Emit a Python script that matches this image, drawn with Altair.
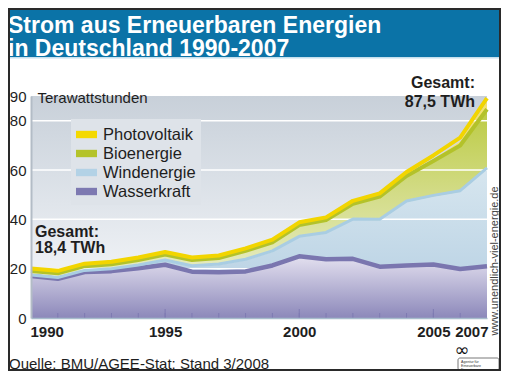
import altair as alt
import pandas as pd

# ---------------- data ----------------
years = list(range(1990, 2008))
wasserkraft = [17.0, 15.9, 18.6, 19.0, 20.2, 21.6, 18.8, 18.5, 18.9, 21.3, 25.0, 23.8, 24.0, 20.8, 21.3, 21.7, 19.9, 21.0]
windenergie = [0.07, 0.1, 0.3, 0.6, 0.9, 1.5, 2.0, 3.0, 4.5, 5.5, 7.7, 10.5, 15.7, 18.8, 25.7, 27.6, 31.3, 39.5]
bioenergie = [1.4, 1.5, 1.5, 1.6, 1.8, 2.0, 2.1, 2.2, 3.2, 3.3, 4.4, 4.8, 6.0, 9.0, 10.0, 13.7, 18.1, 23.5]
photovoltaik = [0.0, 0.0, 0.0, 0.0, 0.0, 0.01, 0.01, 0.01, 0.02, 0.03, 0.06, 0.08, 0.19, 0.31, 0.56, 1.28, 2.22, 3.5]

legend_names = ["Photovoltaik", "Bioenergie", "Windenergie", "Wasserkraft"]
legend_colors = ["#f4d900", "#b4c32a", "#b3d2e6", "#7d79b1"]

x_label_years = [1990, 1995, 2000, 2005, 2007]
y_label_values = [0, 20, 40, 60, 80, 90]
grid_values = [20, 40, 60, 80]
tick_years = years[1:-1]
major_tick_years = [1995, 2000, 2005]

title_lines = ["Strom aus Erneuerbaren Energien", "in Deutschland 1990-2007"]
total_start = ["Gesamt:", "18,4 TWh"]
total_end = ["Gesamt:", "87,5 TWh"]
source_text = "Quelle: BMU/AGEE-Stat; Stand 3/2008"
url_text = "www.unendlich-viel-energie.de"
logo_lines = ["Agentur für", "Erneuerbare", "Energien"]

# ---------------- tables ----------------
df = pd.DataFrame({
    "Jahr": years,
    "Wasserkraft": wasserkraft,
    "Windenergie": windenergie,
    "Bioenergie": bioenergie,
    "Photovoltaik": photovoltaik,
})
df["c1"] = df["Wasserkraft"]
df["c2"] = df["c1"] + df["Windenergie"]
df["c3"] = df["c2"] + df["Bioenergie"]
df["c4"] = df["c3"] + df["Photovoltaik"]
long_df = df.melt(id_vars="Jahr", value_vars=legend_names, var_name="Energie", value_name="TWh")

W, H = 456, 222
FONT = "Liberation Sans"
TXT = "#1e1e1e"

xscale = alt.Scale(domain=[1990, 2007], nice=False, zero=False)
yscale = alt.Scale(domain=[0, 90], nice=False, zero=True)
xaxis = alt.Axis(values=x_label_years, format="d", title=None, grid=False, ticks=False,
                 labelFontSize=15, labelFontWeight="bold", labelColor=TXT, labelPadding=6,
                 labelFlush=True, labelFlushOffset=1, labelFont=FONT, zindex=1,
                 domainColor="#a7bccc", domainWidth=1.5)
yaxis = alt.Axis(values=y_label_values, title="Terawattstunden", grid=False, ticks=False,
                 labelFontSize=15, labelColor=TXT, labelPadding=5, labelFont=FONT, zindex=1,
                 domainColor="#b3bcc6", domainWidth=2,
                 titleAngle=0, titleAlign="left", titleBaseline="middle", titleX=6, titleY=1,
                 titleFontSize=15, titleFontWeight="normal", titleColor=TXT, titleFont=FONT)
X = alt.X("Jahr:Q", scale=xscale, axis=xaxis)


def Y(field):
    return alt.Y(field, scale=yscale, axis=yaxis)


def grad(stops):
    return alt.Gradient(gradient="linear", x1=0, x2=0, y1=0, y2=1,
                        stops=[alt.GradientStop(color=c, offset=o) for o, c in stops])


one = alt.Data(values=[{"a": 1}])


def box(x, x2, y, y2, **kw):
    return alt.Chart(one).mark_rect(**kw).encode(
        x=alt.value(x), x2=alt.value(x2), y=alt.value(y), y2=alt.value(y2))


def txt(s, x, y, **kw):
    kw.setdefault("font", FONT)
    return alt.Chart(one).mark_text(text=s, **kw).encode(x=alt.value(x), y=alt.value(y))


base = alt.Chart(df)

background = box(0, W, 0, H, color=grad([(0, "#c8d0d9"), (0.35, "#d9dfe6"), (0.75, "#edf0f4"), (1, "#f3f5f8")]))

area_wind = base.mark_area(color=grad([(0, "#d7e6ef"), (1, "#bcd4e5")])).encode(x=X, y=Y("c2:Q"), y2="c1:Q")
area_bio = base.mark_area(color=grad([(0, "#bccb44"), (0.5, "#d3dc88"), (1, "#e8edc6")])).encode(x=X, y=Y("c3:Q"), y2="c2:Q")
area_pv = base.mark_area(color="#f5e46c").encode(x=X, y=Y("c4:Q"), y2="c3:Q")

grid = alt.Chart(pd.DataFrame({"v": grid_values})).mark_rule(color="white", strokeWidth=1.5).encode(
    y=alt.Y("v:Q", scale=yscale, axis=yaxis))

area_wasser = base.mark_area(color=grad([(0, "#e3e0ef"), (1, "#8c88ba")])).encode(x=X, y=Y("c1:Q"))

ticks_minor = alt.Chart(pd.DataFrame({"j": tick_years})).mark_rule(color="#7e7ab2", strokeWidth=1).encode(
    x=alt.X("j:Q", scale=xscale, axis=xaxis), y=alt.value(H - 5), y2=alt.value(H))
ticks_major = alt.Chart(pd.DataFrame({"j": major_tick_years})).mark_rule(color="#7e7ab2", strokeWidth=1).encode(
    x=alt.X("j:Q", scale=xscale, axis=xaxis), y=alt.value(H - 9), y2=alt.value(H))

line_wasser = base.mark_line(color="#7a76af", strokeWidth=4.5, strokeJoin="round").encode(x=X, y=Y("c1:Q"))
line_wind = base.mark_line(color="#a9cde3", strokeWidth=3, yOffset=-1, strokeJoin="round").encode(x=X, y=Y("c2:Q"))
line_bio = base.mark_line(color="#b3c22a", strokeWidth=4, yOffset=-1.5, strokeJoin="round").encode(x=X, y=Y("c3:Q"))
line_pv = base.mark_line(color="#f2d500", strokeWidth=4, yOffset=-4, strokeJoin="round").encode(x=X, y=Y("c4:Q"))

legend_layer = alt.Chart(long_df).transform_filter("false").mark_area().encode(
    x=X, y=Y("TWh:Q"),
    color=alt.Color("Energie:N", scale=alt.Scale(domain=legend_names, range=legend_colors),
                    legend=alt.Legend(title=None, orient="none", legendX=40, legendY=23, padding=5,
                                      fillColor="#dee3e9", symbolType="M-1,-0.35H1V0.35H-1Z",
                                      symbolSize=441, symbolStrokeWidth=0, symbolOpacity=1,
                                      labelFontSize=16.5, labelFont=FONT, labelColor=TXT,
                                      labelOffset=6, rowPadding=-1.3)))

texts = [
    txt(total_start[0], 4, 136, fontSize=16, fontWeight="bold", align="left", color=TXT),
    txt(total_start[1], 4, 152, fontSize=16, fontWeight="bold", align="left", color=TXT),
    txt(total_end[0], 444, -13, fontSize=16, fontWeight="bold", align="right", color=TXT),
    txt(total_end[1], 444, 6, fontSize=16, fontWeight="bold", align="right", color=TXT),
    txt(source_text, -22, 268, fontSize=15, align="left", color=TXT),
    txt(url_text, 464, 165, fontSize=11, align="center", baseline="middle", angle=270, color="#444444"),
    txt("\u221e", 431, 255, fontSize=18, align="center", baseline="middle", color="#111111", font="DejaVu Sans"),
]
logo = [box(427, 468, 262, 274, fill="white", stroke="#555555", strokeWidth=0.8, cornerRadius=2)]
for i, s in enumerate(logo_lines):
    logo.append(txt(s, 430, 266 + i * 3.9, fontSize=3.6, align="left", color="#333333"))

banner = [
    box(-23, W + 14, -88, -39, color="#0b73a7"),
    box(-23, W + 14, -39, -37.5, color="#c6e0ee"),
    txt(title_lines[0], -23, -70, fontSize=23, fontWeight="bold", align="left", color="white"),
    txt(title_lines[1], -23, -47, fontSize=23, fontWeight="bold", align="left", color="white"),
]
frame = box(-22, W + 13, -87, H + 52, fill=None, filled=False, stroke="#2a2a2a", strokeWidth=2)

chart = alt.layer(
    background, area_wind, area_bio, area_pv, grid, area_wasser,
    ticks_minor, ticks_major,
    line_wasser, line_wind, line_bio, line_pv,
    legend_layer, *texts, *logo, *banner, frame,
).properties(
    width=W, height=H,
    padding={"left": 23, "top": 88, "right": 14, "bottom": 53},
    autosize=alt.AutoSizeParams(type="none"),
).configure(font=FONT, background="white").configure_view(stroke=None)

chart.save("out.html", embed_options={"renderer": "svg", "actions": False})
